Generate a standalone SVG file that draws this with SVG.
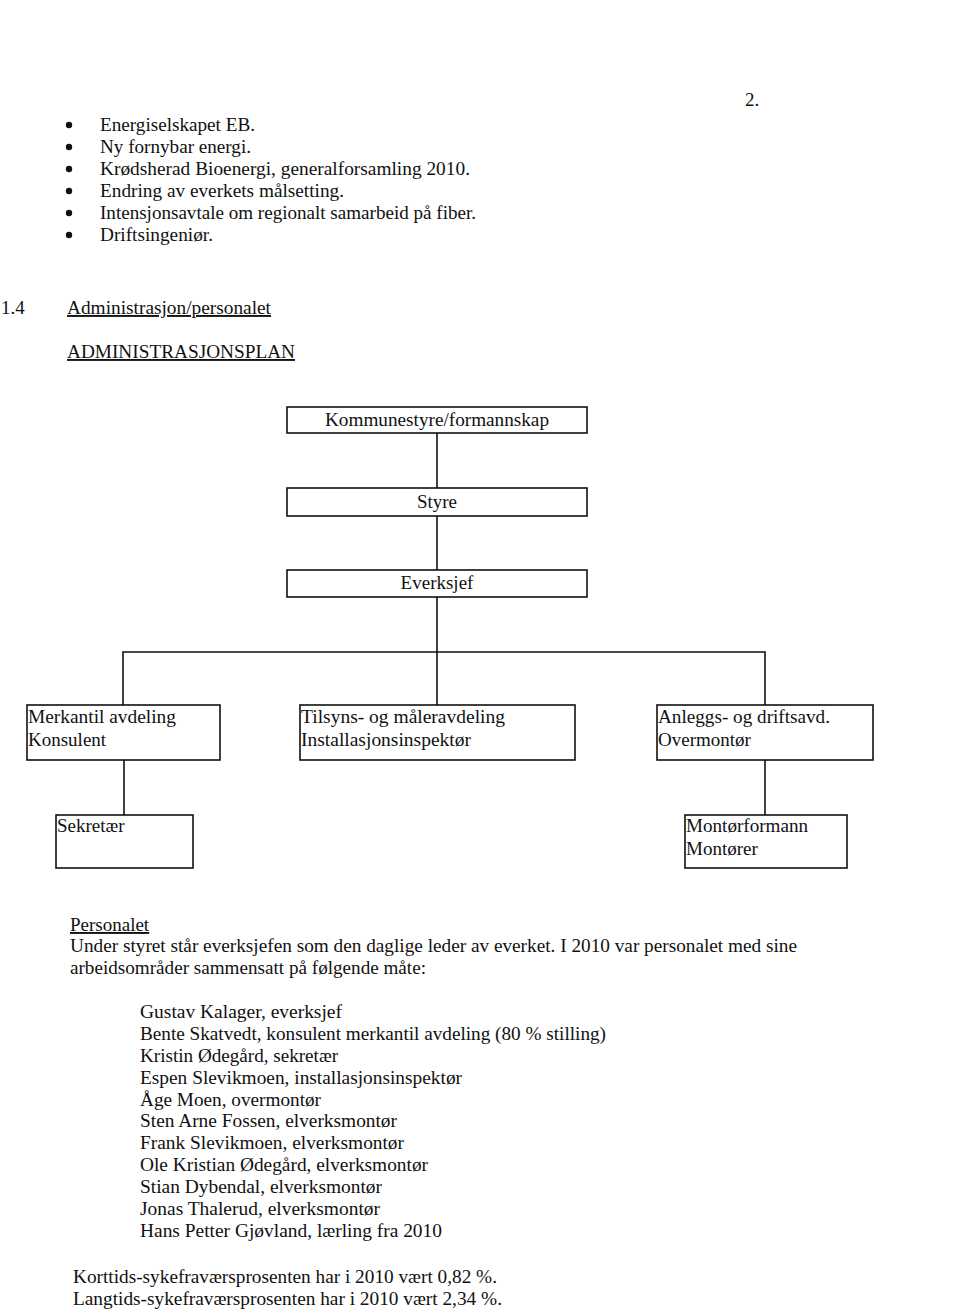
<svg xmlns="http://www.w3.org/2000/svg" width="960" height="1309" viewBox="0 0 960 1309">
<style>
text{font-family:"Liberation Serif","Times New Roman",serif;font-size:19px;fill:#111}
.box{fill:#fff;stroke:#111;stroke-width:1.6}
.ln{stroke:#111;stroke-width:1.6;fill:none}
.u{text-decoration:underline}
.c{text-anchor:middle}
</style>
<rect width="960" height="1309" fill="#fff"/>
<g id="header">
<text x="745" y="106">2.</text>
<circle cx="69" cy="125" r="3.2" fill="#111"/>
<circle cx="69" cy="147" r="3.2" fill="#111"/>
<circle cx="69" cy="169" r="3.2" fill="#111"/>
<circle cx="69" cy="191" r="3.2" fill="#111"/>
<circle cx="69" cy="213" r="3.2" fill="#111"/>
<circle cx="69" cy="235" r="3.2" fill="#111"/>
<text x="100" y="131" textLength="155" lengthAdjust="spacingAndGlyphs">Energiselskapet EB.</text>
<text x="100" y="153" textLength="151" lengthAdjust="spacingAndGlyphs">Ny fornybar energi.</text>
<text x="100" y="175" textLength="370" lengthAdjust="spacingAndGlyphs">Krødsherad Bioenergi, generalforsamling 2010.</text>
<text x="100" y="197" textLength="244" lengthAdjust="spacingAndGlyphs">Endring av everkets målsetting.</text>
<text x="100" y="219" textLength="376" lengthAdjust="spacingAndGlyphs">Intensjonsavtale om regionalt samarbeid på fiber.</text>
<text x="100" y="241" textLength="113" lengthAdjust="spacingAndGlyphs">Driftsingeniør.</text>
<text x="1" y="314">1.4</text>
<text x="67" y="314" class="u" textLength="204" lengthAdjust="spacingAndGlyphs">Administrasjon/personalet</text>
<text x="67" y="358" class="u" textLength="228" lengthAdjust="spacingAndGlyphs">ADMINISTRASJONSPLAN</text>
</g>
<g id="connectors">
<line class="ln" x1="437" y1="433" x2="437" y2="488"/>
<line class="ln" x1="437" y1="516" x2="437" y2="570"/>
<line class="ln" x1="437" y1="597" x2="437" y2="705"/>
<polyline class="ln" points="123,705 123,652 765,652 765,705"/>
<line class="ln" x1="124" y1="760" x2="124" y2="815"/>
<line class="ln" x1="765" y1="760" x2="765" y2="815"/>
</g>
<g id="kommunestyre">
<rect class="box" x="287" y="407" width="300" height="26"/>
<text class="c" x="437" y="426" textLength="224" lengthAdjust="spacingAndGlyphs">Kommunestyre/formannskap</text>
</g>
<g id="styre">
<rect class="box" x="287" y="488" width="300" height="28"/>
<text class="c" x="437" y="508">Styre</text>
</g>
<g id="everksjef">
<rect class="box" x="287" y="570" width="300" height="27"/>
<text class="c" x="437" y="589">Everksjef</text>
</g>
<g id="merkantil">
<rect class="box" x="27" y="705" width="193" height="55"/>
<text x="28" y="723" textLength="148" lengthAdjust="spacingAndGlyphs">Merkantil avdeling</text>
<text x="28" y="746">Konsulent</text>
</g>
<g id="tilsyn">
<rect class="box" x="300" y="705" width="275" height="55"/>
<text x="301" y="723" textLength="204" lengthAdjust="spacingAndGlyphs">Tilsyns- og måleravdeling</text>
<text x="301" y="746" textLength="170" lengthAdjust="spacingAndGlyphs">Installasjonsinspektør</text>
</g>
<g id="anleggs">
<rect class="box" x="657" y="705" width="216" height="55"/>
<text x="658" y="723" textLength="172" lengthAdjust="spacingAndGlyphs">Anleggs- og driftsavd.</text>
<text x="658" y="746">Overmontør</text>
</g>
<g id="sekretaer">
<rect class="box" x="56" y="815" width="137" height="53"/>
<text x="57" y="832">Sekretær</text>
</g>
<g id="montor">
<rect class="box" x="685" y="815" width="162" height="53"/>
<text x="686" y="832" textLength="122" lengthAdjust="spacingAndGlyphs">Montørformann</text>
<text x="686" y="855">Montører</text>
</g>
<g id="personalet">
<text x="70" y="931" class="u">Personalet</text>
<text x="70" y="952" textLength="727" lengthAdjust="spacingAndGlyphs">Under styret står everksjefen som den daglige leder av everket. I 2010 var personalet med sine</text>
<text x="70" y="974" textLength="356" lengthAdjust="spacingAndGlyphs">arbeidsområder sammensatt på følgende måte:</text>
<text x="140" y="1018" textLength="202" lengthAdjust="spacingAndGlyphs">Gustav Kalager, everksjef</text>
<text x="140" y="1040" textLength="466" lengthAdjust="spacingAndGlyphs">Bente Skatvedt, konsulent merkantil avdeling (80 % stilling)</text>
<text x="140" y="1062" textLength="198" lengthAdjust="spacingAndGlyphs">Kristin Ødegård, sekretær</text>
<text x="140" y="1084" textLength="322" lengthAdjust="spacingAndGlyphs">Espen Slevikmoen, installasjonsinspektør</text>
<text x="140" y="1106" textLength="181" lengthAdjust="spacingAndGlyphs">Åge Moen, overmontør</text>
<text x="140" y="1127" textLength="257" lengthAdjust="spacingAndGlyphs">Sten Arne Fossen, elverksmontør</text>
<text x="140" y="1149" textLength="264" lengthAdjust="spacingAndGlyphs">Frank Slevikmoen, elverksmontør</text>
<text x="140" y="1171" textLength="288" lengthAdjust="spacingAndGlyphs">Ole Kristian Ødegård, elverksmontør</text>
<text x="140" y="1193" textLength="242" lengthAdjust="spacingAndGlyphs">Stian Dybendal, elverksmontør</text>
<text x="140" y="1215" textLength="240" lengthAdjust="spacingAndGlyphs">Jonas Thalerud, elverksmontør</text>
<text x="140" y="1237" textLength="302" lengthAdjust="spacingAndGlyphs">Hans Petter Gjøvland, lærling fra 2010</text>
<text x="73" y="1283" textLength="424" lengthAdjust="spacingAndGlyphs">Korttids-sykefraværsprosenten har i 2010 vært 0,82 %.</text>
<text x="73" y="1305" textLength="429" lengthAdjust="spacingAndGlyphs">Langtids-sykefraværsprosenten har i 2010 vært 2,34 %.</text>
</g>
</svg>
